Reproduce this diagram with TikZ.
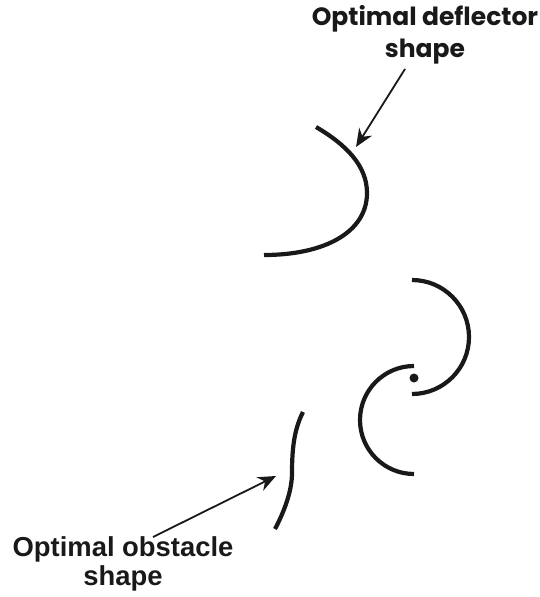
\documentclass[tikz,border=0pt]{standalone}
\usepackage{fontspec}
\newfontfamily\topfont{Poppins}
\setmainfont{Liberation Sans}
\usetikzlibrary{arrows.meta}
\tikzset{
 curve/.style={line width=4.2pt,color=black!90},
 pointer/.style={line width=1.8pt,color=black!90,-{Stealth[length=18pt,width=15pt]}},
 labeltop/.style={align=center,inner sep=0pt,font=\topfont\fontsize{25}{32}\selectfont\bfseries,color=black!90},
 labelbot/.style={align=center,inner sep=0pt,font=\fontsize{27.4}{29}\selectfont\bfseries,color=black!90}
}
\begin{document}
\begin{tikzpicture}[x=1pt,y=-1pt]
\useasboundingbox (0,0) rectangle (540,597);
\node[labeltop] (deflabel) at (425,35) {Optimal deflector\\shape};
\node[labelbot] (obslabel) at (123,564) {Optimal obstacle\\shape};
\coordinate (defstart) at (405,69);
\coordinate (defend) at (356,147);
\coordinate (obsstart) at (153,537);
\coordinate (obsend) at (276,476);
\draw[curve] (316,127) .. controls (345,144) and (367,165) .. (367,193)
  .. controls (367,232) and (325,255) .. (264,255);
\draw[curve] (412,280) arc[start angle=-90,end angle=90,radius=57];
\draw[curve] (414,366) arc[start angle=270,end angle=90,radius=54];
\fill[black!90] (414,378) circle[radius=4.5];
\draw[curve] (303,412) .. controls (295,428) and (292,445) .. (292,473)
  .. controls (292,490) and (285,510) .. (275,529);
\draw[pointer] (defstart) -- (defend);
\draw[pointer] (obsstart) -- (obsend);
\end{tikzpicture}
\end{document}
